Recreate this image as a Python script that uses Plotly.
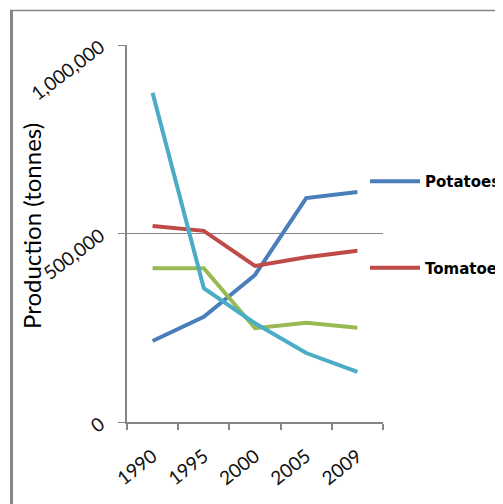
import plotly.graph_objects as go

years = ["1990", "1995", "2000", "2005", "2009"]
potatoes = [215000, 279000, 390000, 594000, 610000]
tomatoes = [520000, 507000, 414000, 437000, 454000]
series3 = [408000, 408000, 249000, 263000, 250000]
series4 = [873000, 355000, 262000, 183000, 133000]
y_ticks = [0, 500000, 1000000]

W, H = 503, 504
OFF = 8  # page body margin offset
L, T = 127 - OFF, 45 - OFF
pw, ph = 256, 377
R, B = W - L - pw, H - T - ph

def px_x(p):
    return (p - OFF - L) / pw

def px_y(p):
    return (T + ph - (p - OFF)) / ph

fig = go.Figure()
specs = [
    ("Potatoes", potatoes, "#4A7EBB", True),
    ("Tomatoes", tomatoes, "#BE4B48", True),
    ("Series 3", series3, "#98B954", False),
    ("Series 4", series4, "#4BACC6", False),
]
for i, (name, vals, col, show) in enumerate(specs):
    fig.add_trace(go.Scatter(
        x=years, y=vals, name=name, mode="lines",
        line=dict(color=col, width=4),
        showlegend=show, legendgroup=f"g{i}",
    ))

axis_col = "#868686"
fig.update_layout(
    width=W, height=H,
    margin=dict(l=L, r=R, t=T, b=B, autoexpand=False),
    paper_bgcolor="white", plot_bgcolor="white",
    font=dict(family="Lato, sans-serif", color="#000000"),
    xaxis=dict(
        type="category", range=[-0.5, 4.5], automargin=False,
        showgrid=False, showline=True, linecolor=axis_col, linewidth=2,
        ticks="outside", tickson="boundaries", ticklen=6, tickcolor=axis_col, tickwidth=2,
        tickangle=-38, tickfont=dict(size=19, family="Lato", color="#111"),
        ticklabelstandoff=14,
        zeroline=False, fixedrange=True,
    ),
    yaxis=dict(
        range=[0, 1000000], tickvals=y_ticks, tickformat=",d", automargin=False,
        showgrid=True, gridcolor=axis_col, gridwidth=1,
        showline=True, linecolor=axis_col, linewidth=1.5,
        ticks="outside", ticklen=7, tickcolor=axis_col, tickwidth=1,
        tickangle=-37, tickfont=dict(size=19, family="Lato", color="#111"),
        ticklabelstandoff=14,
        zeroline=False,
    ),
    annotations=[
        dict(text="Production (tonnes)", xref="paper", yref="paper",
             x=px_x(31), y=px_y(226), textangle=-90, showarrow=False,
             xanchor="center", yanchor="middle",
             font=dict(size=24, family="Lato", color="#000")),
    ],
    legend=dict(
        xref="container", yref="container",
        x=(364 - 7) / W, y=1 - 157 / H, xanchor="left", yanchor="top",
        traceorder="grouped", tracegroupgap=64, itemwidth=50,
        font=dict(size=15, family="DejaVu Sans", color="#000", weight="bold"),
        bgcolor="rgba(0,0,0,0)",
    ),
    shapes=[
        dict(type="line", xref="paper", yref="paper",
             x0=px_x(11.5), x1=px_x(11.5), y0=px_y(10.5), y1=px_y(560),
             line=dict(color=axis_col, width=3)),
        dict(type="line", xref="paper", yref="paper",
             x0=px_x(10), x1=px_x(560), y0=px_y(10.5), y1=px_y(10.5),
             line=dict(color=axis_col, width=1.5)),
    ],
)

fig.write_html("out.html")
